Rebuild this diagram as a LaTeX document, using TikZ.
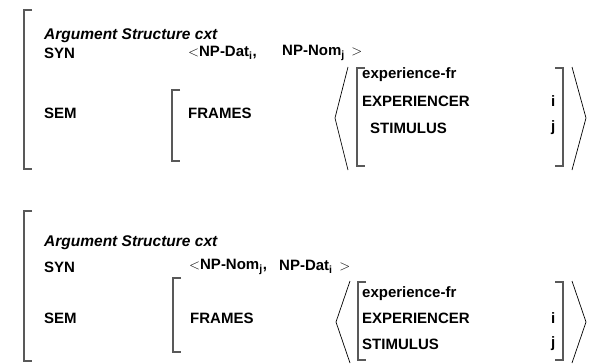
\documentclass[tikz,border=0pt]{standalone}
\usepackage{fontspec}
\setmainfont{Liberation Sans}
\begin{document}
\begin{tikzpicture}[x=1pt,y=-1pt,
  txt/.style={anchor=west,inner sep=0pt,font=\fontsize{15}{17}\selectfont\bfseries},
  hdr/.style={anchor=west,inner sep=0pt,font=\fontsize{15.5}{18}\selectfont\bfseries\itshape},
  sm/.style={anchor=west,inner sep=0pt,font=\fontsize{15}{17}\selectfont\bfseries},
  brk/.style={draw=black!65,line width=1.2pt},
  ang/.style={draw=black,line width=0.7pt}]
\useasboundingbox (0,0) rectangle (592,364);
% ---------- top block ----------
\draw[brk] (32,10) -- (24,10) -- (24,169) -- (32,169);
\node[hdr] (h1) at (44,36) {Argument Structure cxt};
\node[txt] (syn1) at (44,53) {SYN};
\node[txt] (a1) at (188,53) {$<$NP-Dat\textsubscript{i},};
\node[txt] (b1) at (282,53) {NP-Nom\textsubscript{j}\, $>$};
\node[txt] (sem1) at (44,113) {SEM};
\draw[brk] (180,90) -- (172,90) -- (172,161) -- (180,161);
\node[txt] (fr1) at (188,113) {FRAMES};
\draw[ang] (348,67) -- (335,118) -- (348,170);
\draw[brk] (365,68) -- (357,68) -- (357,166) -- (365,166);
\node[sm] (e1) at (362,75) {experience-fr};
\node[txt] (x1) at (362,101) {EXPERIENCER};
\node[txt] (s1) at (370,128) {STIMULUS};
\node[txt] (i1) at (551,101) {i};
\node[txt] (j1) at (551,128) {j};
\draw[brk] (555,68) -- (563,68) -- (563,166) -- (555,166);
\draw[ang] (572,67) -- (586,118) -- (572,170);
% ---------- bottom block ----------
\draw[brk] (32,211) -- (24,211) -- (24,361) -- (32,361);
\node[hdr] (h2) at (44,243) {Argument Structure cxt};
\node[txt] (syn2) at (44,267) {SYN};
\node[txt] (a2) at (189,267) {$<$NP-Nom\textsubscript{j},};
\node[txt] (b2) at (279,267) {NP-Dat\textsubscript{i}\, $>$};
\node[txt] (sem2) at (44,318) {SEM};
\draw[brk] (181,278) -- (173,278) -- (173,352) -- (181,352);
\node[txt] (fr2) at (190,318) {FRAMES};
\draw[ang] (350,281) -- (336,322) -- (350,363);
\draw[brk] (366,282) -- (358,282) -- (358,360) -- (366,360);
\node[sm] (e2) at (362,294) {experience-fr};
\node[txt] (x2) at (362,318) {EXPERIENCER};
\node[txt] (s2) at (362,344) {STIMULUS};
\node[txt] (i2) at (551,318) {i};
\node[txt] (j2) at (551,344) {j};
\draw[brk] (555,282) -- (563,282) -- (563,360) -- (555,360);
\draw[ang] (572,281) -- (586,322) -- (572,363);
\end{tikzpicture}
\end{document}
